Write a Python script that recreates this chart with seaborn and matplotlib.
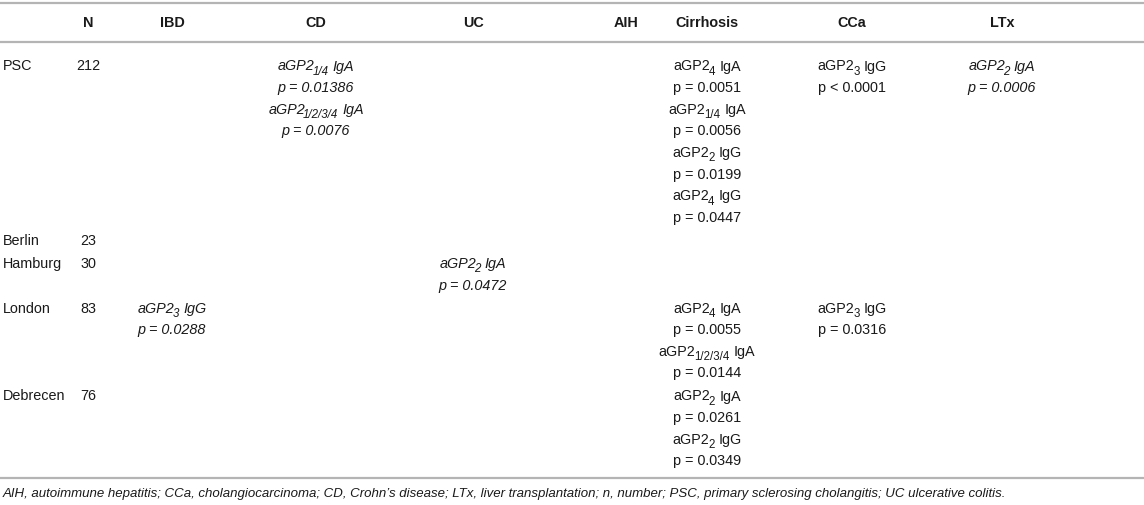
import matplotlib
matplotlib.use("Agg")
import matplotlib.pyplot as plt
import seaborn as sns

# table content
columns = ["N", "IBD", "CD", "UC", "AIH", "Cirrhosis", "CCa", "LTx"]
rows = ["PSC", "Berlin", "Hamburg", "London", "Debrecen"]
n_values = [212, 23, 30, 83, 76]

finding_row = ["PSC", "PSC", "PSC", "PSC", "PSC", "PSC", "PSC", "PSC",
               "Hamburg", "London", "London", "London", "London",
               "Debrecen", "Debrecen"]
finding_col = ["CD", "CD", "Cirrhosis", "Cirrhosis", "Cirrhosis", "Cirrhosis",
               "CCa", "LTx", "UC", "IBD", "Cirrhosis", "Cirrhosis", "CCa",
               "Cirrhosis", "Cirrhosis"]
finding_sub = ["1/4", "1/2/3/4", "4", "1/4", "2", "4", "3", "2",
               "2", "3", "4", "1/2/3/4", "3", "2", "2"]
finding_iso = ["IgA", "IgA", "IgA", "IgA", "IgG", "IgG", "IgG", "IgA",
               "IgA", "IgG", "IgA", "IgA", "IgG", "IgA", "IgG"]
finding_p = ["= 0.01386", "= 0.0076", "= 0.0051", "= 0.0056", "= 0.0199",
             "= 0.0447", "< 0.0001", "= 0.0006", "= 0.0472", "= 0.0288",
             "= 0.0055", "= 0.0144", "= 0.0316", "= 0.0261", "= 0.0349"]
italic_cols = ["IBD", "CD", "UC", "LTx"]

footnote = ("AIH, autoimmune hepatitis; CCa, cholangiocarcinoma; CD, Crohn\u2019s disease; "
            "LTx, liver transplantation; n, number; PSC, primary sclerosing cholangitis; "
            "UC ulcerative colitis.")

# layout (pixel-like units)
col_x = [88, 172, 316, 473, 626, 707, 852, 1002]
label_x = 3
first_base = 70.5
line_h = 21.6
row_gap = 1.5

sns.set_theme(style="white")
plt.rcParams["font.family"] = ["Liberation Sans", "DejaVu Sans"]

fig = plt.figure(figsize=(11.44, 5.05), dpi=100)
ax = fig.add_axes([0, 0, 1, 1])
ax.set_xlim(0, 1144)
ax.set_ylim(505, 0)
ax.axis("off")
renderer = fig.canvas.get_renderer()

txt = "#1a1a1a"
rule = "#b4b4b4"
fs = 10.4


def sub_label(x, y, main, sub, tail, style):
    # main text + lowered smaller subscript + tail, centred on x
    kern = -2.0 if style == "italic" else -1.0
    parts = [(main, fs, 0, 0), (sub, fs * 0.8, 4.5, kern), (tail, fs, 0, 4.0)]
    objs = []
    for s, size, dy, gap in parts:
        t = ax.text(0, y + dy, s, ha="left", va="baseline", fontsize=size,
                    style=style, color=txt)
        objs.append((t, gap))
    total = sum(t.get_window_extent(renderer).width + g for t, g in objs)
    cur = x - total / 2
    for t, g in objs:
        cur += g
        t.set_x(cur)
        cur += t.get_window_extent(renderer).width


for y in [3, 42, 478]:
    ax.axhline(y, color=rule, lw=1.6)

for name, x in zip(columns, col_x):
    ax.text(x, 27, name, ha="center", va="baseline", fontsize=fs,
            fontweight="bold", color=txt)

# count lines per row
lines_per_row = {}
for r in rows:
    counts = {}
    for fr, fc in zip(finding_row, finding_col):
        if fr == r:
            counts[fc] = counts.get(fc, 0) + 2
    lines_per_row[r] = max(counts.values()) if counts else 1

base = first_base
for r, n in zip(rows, n_values):
    ax.text(label_x, base, r, ha="left", va="baseline", fontsize=fs, color=txt)
    ax.text(col_x[0], base, str(n), ha="center", va="baseline", fontsize=fs, color=txt)
    used = {}
    for fr, fc, sub, iso, p in zip(finding_row, finding_col, finding_sub,
                                   finding_iso, finding_p):
        if fr != r:
            continue
        k = used.get(fc, 0)
        x = col_x[columns.index(fc)]
        style = "italic" if fc in italic_cols else "normal"
        sub_label(x, base + k * line_h, "aGP2", sub, iso, style)
        ax.text(x, base + (k + 1) * line_h, "p " + p, ha="center", va="baseline",
                fontsize=fs, style=style, color=txt)
        used[fc] = k + 2
    base += lines_per_row[r] * line_h + row_gap

ax.text(label_x, 497, footnote, ha="left", va="baseline", fontsize=9.5,
        style="italic", color=txt)

fig.savefig("out.png", dpi=100)
